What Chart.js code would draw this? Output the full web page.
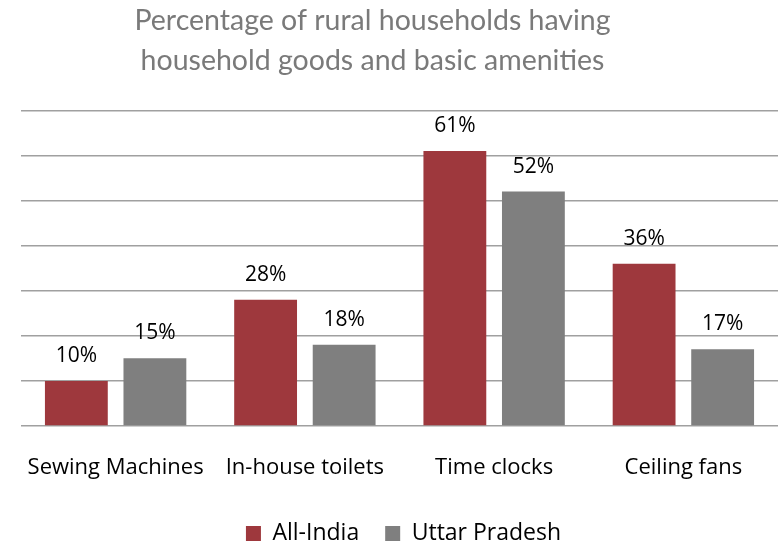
<!DOCTYPE html>
<html>
<head>
<meta charset="utf-8">
<script src="https://cdn.jsdelivr.net/npm/chart.js@4/dist/chart.umd.min.js"></script>
<style>
  html, body { margin: 0; padding: 0; background: #fff; }
  #wrap { width: 781px; height: 547px; }
</style>
</head>
<body>
<div id="wrap"><canvas id="amenitiesChart"></canvas></div>
<script>
// data
const categories = ['Sewing Machines', 'In-house toilets', 'Time clocks', 'Ceiling fans'];
const allIndia = [10, 28, 61, 36];
const uttarPradesh = [15, 18, 52, 17];
const seriesNames = ['All-India', 'Uttar Pradesh'];

const labelFont = "'Open Sans', sans-serif";

// draw the percentage above each bar
const valueLabels = {
    id: 'valueLabels',
    afterDatasetsDraw(chart) {
        const ctx = chart.ctx;
        ctx.save();
        ctx.font = '21px ' + labelFont;
        ctx.fillStyle = '#000';
        ctx.textAlign = 'center';
        ctx.textBaseline = 'alphabetic';
        chart.data.datasets.forEach(function(ds, i) {
            chart.getDatasetMeta(i).data.forEach(function(bar, j) {
                ctx.fillText(ds.data[j] + '%', bar.x, bar.y - 19);
            });
        });
        ctx.restore();
    }
};

// the title sits a little left of centre in the picture, the legend a little right
const nudgeBoxes = {
    id: 'nudgeBoxes',
    afterLayout(chart) {
        if (chart.titleBlock) {
            chart.titleBlock.left -= 27;
            chart.titleBlock.right -= 27;
        }
        if (chart.legend) {
            chart.legend.left += 4;
            chart.legend.right += 4;
        }
    }
};

const ctx = document.getElementById('amenitiesChart').getContext('2d');
const chart = new Chart(ctx, {
    type: 'bar',
    data: {
        labels: categories,
        datasets: [{
            label: seriesNames[0],
            data: allIndia,
            backgroundColor: '#9e383d'
        }, {
            label: seriesNames[1],
            data: uttarPradesh,
            backgroundColor: '#7f7f7f'
        }]
    },
    options: {
        responsive: true,
        maintainAspectRatio: false,
        animation: false,
        layout: { padding: { left: 21, right: 3, top: 0, bottom: -8 } },
        datasets: {
            bar: { categoryPercentage: 0.83, barPercentage: 0.8 }
        },
        plugins: {
            title: {
                display: true,
                text: ['Percentage of rural households having', 'household goods and basic amenities'],
                color: '#7a7a7a',
                font: { family: "'Gill Sans', Lato, sans-serif", size: 28.5, weight: 'normal', lineHeight: 1.41 },
                padding: { top: 1, bottom: 29 }
            },
            legend: {
                position: 'bottom',
                labels: {
                    color: '#000',
                    boxWidth: 15,
                    boxHeight: 15,
                    padding: 26,
                    font: { family: labelFont, size: 23 }
                }
            },
            tooltip: { enabled: false }
        },
        scales: {
            x: {
                grid: { display: false },
                border: { display: false },
                ticks: {
                    color: '#000',
                    font: { family: labelFont, size: 22 },
                    maxRotation: 0,
                    autoSkip: false,
                    padding: 21
                },
                afterFit(scale) { scale.height = 70; }
            },
            y: {
                min: 0,
                max: 70,
                border: { display: false },
                grid: { color: '#a0a0a0', lineWidth: 1.5, drawTicks: false },
                ticks: { display: false, stepSize: 10 },
                afterFit(scale) { scale.width = 0; }
            }
        }
    },
    plugins: [valueLabels, nudgeBoxes]
});
</script>
</body>
</html>
